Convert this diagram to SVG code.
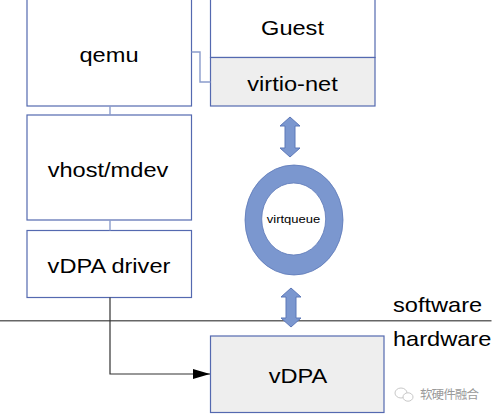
<svg xmlns="http://www.w3.org/2000/svg" width="496" height="415" viewBox="0 0 496 415">
<defs>
<style>
.box{fill:#ffffff;stroke:#5469b0;stroke-width:1.2}
.gbox{fill:#eeeeee;stroke:#5469b0;stroke-width:1.2}
.lbl{font-family:"Liberation Sans",Arial,sans-serif;font-size:20px;fill:#000;text-anchor:middle}
.side{font-family:"Liberation Sans",Arial,sans-serif;font-size:20px;fill:#000}
.link{fill:none;stroke:#8a9ccc;stroke-width:1.4}
.arr{fill:#7b97cf;stroke:#5d78b8;stroke-width:1}
</style>
<marker id="ah" viewBox="0 0 10 10" refX="10" refY="5" markerWidth="17" markerHeight="10" markerUnits="userSpaceOnUse" orient="auto" preserveAspectRatio="none">
<path d="M0,0 L10,5 L0,10 z" fill="#000"/>
</marker>
</defs>
<g id="qemu">
<rect class="box" x="27" y="-1" width="164.5" height="107"/>
<text class="lbl" transform="translate(109,62) scale(1.18,1)">qemu</text>
</g>
<g id="vhost">
<rect class="box" x="27" y="115" width="164.5" height="105"/>
<text class="lbl" transform="translate(108,177) scale(1.18,1)">vhost/mdev</text>
</g>
<g id="vdpa-driver">
<rect class="box" x="27" y="230.5" width="164.5" height="67"/>
<text class="lbl" transform="translate(109,273) scale(1.18,1)">vDPA driver</text>
</g>
<g id="guest">
<rect class="box" x="210.5" y="-1" width="164.5" height="58.5"/>
<text class="lbl" transform="translate(292.5,35) scale(1.18,1)">Guest</text>
</g>
<g id="virtio-net">
<rect class="gbox" x="210.5" y="57.5" width="164.5" height="48.5"/>
<text class="lbl" transform="translate(292.5,91) scale(1.18,1)">virtio-net</text>
</g>
<g id="virtqueue">
<path d="M245,220 a49,55 0 1,0 98,0 a49,55 0 1,0 -98,0 z M261.7,219 a32,36 0 1,0 64,0 a32,36 0 1,0 -64,0 z" fill="#7b97cf" fill-rule="evenodd" stroke="#5d78b8" stroke-width="0.8"/>
<text transform="translate(293.5,223.3) scale(1.18,1)" font-family="'Liberation Sans',Arial,sans-serif" font-size="11" text-anchor="middle" fill="#000">virtqueue</text>
</g>
<g id="vdpa">
<rect class="gbox" x="210.5" y="336" width="173.5" height="76.5"/>
<text class="lbl" transform="translate(298,383) scale(1.18,1)">vDPA</text>
</g>
<g id="boundary">
<line x1="0" y1="320.7" x2="491.5" y2="320.7" stroke="#666" stroke-width="1.6"/>
<text class="side" transform="translate(393,311.5) scale(1.18,1)">software</text>
<text class="side" transform="translate(393,345.5) scale(1.18,1)">hardware</text>
</g>
<g id="connectors">
<path class="link" d="M191.5,52 H200 V82 H210.5"/>
<line class="link" x1="110" y1="106" x2="110" y2="115"/>
<line class="link" x1="110" y1="220" x2="110" y2="230.5"/>
<path d="M110,297.5 V374 H210" fill="none" stroke="#333" stroke-width="1.2" marker-end="url(#ah)"/>
<polygon class="arr" points="290,117 300,126 295,126 295,148 300,148 290,157 280,148 285,148 285,126 280,126"/>
<polygon class="arr" points="291,288 301,297 296,297 296,318 301,318 291,327 281,318 286,318 286,297 281,297"/>
</g>
<g id="watermark">
<ellipse cx="401" cy="393" rx="6" ry="5" fill="none" stroke="#c8c8c8" stroke-width="1"/>
<ellipse cx="408" cy="397" rx="5" ry="4.2" fill="#fff" stroke="#c8c8c8" stroke-width="1"/>
<text x="420" y="399" font-family="'Noto Sans CJK SC',sans-serif" font-size="12.5" fill="#9a9a9a" textLength="59">软硬件融合</text>
</g>
</svg>
